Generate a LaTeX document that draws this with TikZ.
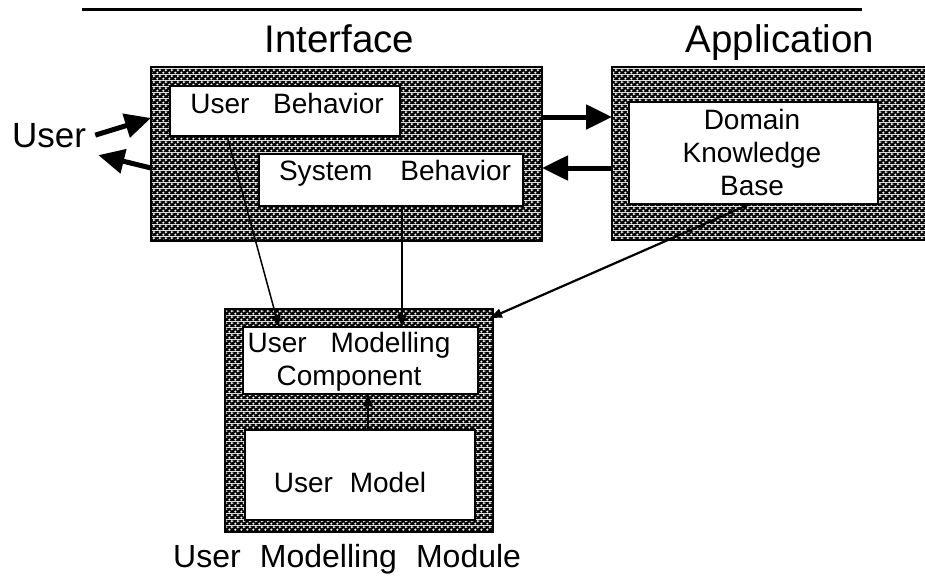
\documentclass[tikz,border=0pt]{standalone}
\usepackage{fontspec}
\setmainfont{Liberation Sans}
\usetikzlibrary{arrows.meta,patterns,calc}

% black field with white four-pointed stars on a diagonal lattice
\newcommand\hatchstar[2]{%
  \pgfpathmoveto{\pgfpoint{#1pt+1.6pt}{#2pt}}%
  \pgfpathlineto{\pgfpoint{#1pt+0.55pt}{#2pt+0.55pt}}%
  \pgfpathlineto{\pgfpoint{#1pt}{#2pt+1.6pt}}%
  \pgfpathlineto{\pgfpoint{#1pt-0.55pt}{#2pt+0.55pt}}%
  \pgfpathlineto{\pgfpoint{#1pt-1.6pt}{#2pt}}%
  \pgfpathlineto{\pgfpoint{#1pt-0.55pt}{#2pt-0.55pt}}%
  \pgfpathlineto{\pgfpoint{#1pt}{#2pt-1.6pt}}%
  \pgfpathlineto{\pgfpoint{#1pt+0.55pt}{#2pt-0.55pt}}%
  \pgfpathclose}
\pgfdeclarepatterninherentlycolored{xhatch}{\pgfpointorigin}{\pgfpoint{6pt}{6pt}}{\pgfpoint{6pt}{6pt}}{%
  \pgfsetfillcolor{black}%
  \pgfpathrectangle{\pgfpointorigin}{\pgfpoint{6pt}{6pt}}%
  \pgfusepath{fill}%
  \pgfsetfillcolor{white}%
  \hatchstar{1.5}{1.5}%
  \hatchstar{4.5}{4.5}%
  \pgfusepath{fill}%
}

\newcommand\wgap{\hspace{0.85em}}

\tikzset{
  panel/.style={draw, line width=2.5pt, pattern=xhatch, inner sep=0pt, outer sep=0pt},
  inbox/.style={draw, line width=2pt, fill=white, inner sep=0pt, outer sep=0pt},
  title/.style={font=\fontsize{38.5}{42}\selectfont, inner sep=0pt, anchor=base},
  boxtext/.style={font=\fontsize{28}{33}\selectfont, inner sep=0pt, anchor=base, align=center},
  bigarrow/.style={line width=5pt, -{Triangle[length=26pt,width=24pt]}},
  thinarrow/.style={line width=1.5pt, -{Triangle[length=12pt,width=9pt]}},
}

\begin{document}
\begin{tikzpicture}[x=1pt,y=-1pt]
\useasboundingbox (0,0) rectangle (925,584);
\clip (0,0) rectangle (925,584);

% rule across the top
\coordinate (rulel) at (82,9);
\coordinate (ruler) at (862,9);
\draw[line width=3pt] (rulel) -- (ruler);

% hatched panels
\node[panel, minimum width=391pt, minimum height=174pt] (iface) at (346.5,154) {};
\node[panel, minimum width=323pt, minimum height=173pt] (app) at (773.5,153.5) {};
\node[panel, minimum width=268pt, minimum height=223pt] (umm) at (359,420.5) {};

% white boxes inside the panels
\node[inbox, minimum width=230pt, minimum height=50pt] (ub) at (285,111) {};
\node[inbox, minimum width=264pt, minimum height=52pt] (sb) at (391,180) {};
\node[inbox, minimum width=249pt, minimum height=102pt] (dkb) at (753.5,153) {};
\node[inbox, minimum width=235pt, minimum height=67pt] (umc) at (360.5,360.5) {};
\node[inbox, minimum width=230pt, minimum height=90pt] (um) at (360,475) {};

% titles
\node[title] (ifacelbl) at (339.5,52) {Interface};
\node[title] (applbl) at (780,52) {Application};
\node[font=\fontsize{35}{40}\selectfont, inner sep=0pt, anchor=base west] (user) at (12,147) {User};
\node[font=\fontsize{32}{36}\selectfont, inner sep=0pt, anchor=base west] (ummlbl) at (173,567) {User\hspace{0.6em}Modelling\hspace{0.6em}Module};

% box texts
\node[boxtext] (ubt) at (287,113) {User\wgap Behavior};
\node[boxtext] (sbt) at (395,180) {System\hspace{1em}Behavior};
\node[boxtext] (dkbt) at (752,195) {Domain\\Knowledge\\Base};
\node[boxtext] (umct) at (349,385) {User\wgap Modelling\\Component};
\node[boxtext] (umt) at (350,492) {User\hspace{0.6em}Model};

% exchanges with the user and the application
\draw[bigarrow] ($(user.east)+(9,0)$) -- ($(iface.north west)+(0,51)$);
\draw[bigarrow] ($(iface.north west)+(0,101)$) -- ($(user.east)+(12,20)$);
\draw[bigarrow] ($(iface.north east)+(0,50)$) -- ($(app.north west)+(0,50)$);
\draw[bigarrow] ($(app.north west)+(0,101)$) -- ($(iface.north east)+(0,101)$);

% flows into the user modelling module
\draw[thinarrow] ($(ub.south west)+(57,0)$) -- ($(umc.north west)+(36,0)$);
\draw[thinarrow] ($(sb.south west)+(143,0)$) -- ($(umc.north west)+(159,0)$);
\draw[thinarrow, line width=2.2pt] ($(dkb.south west)+(121,0)$) -- ($(umm.north east)+(-3,9)$);
\draw[thinarrow] ($(um.north west)+(123,0)$) -- ($(umc.south west)+(125,0)$);
\end{tikzpicture}
\end{document}
